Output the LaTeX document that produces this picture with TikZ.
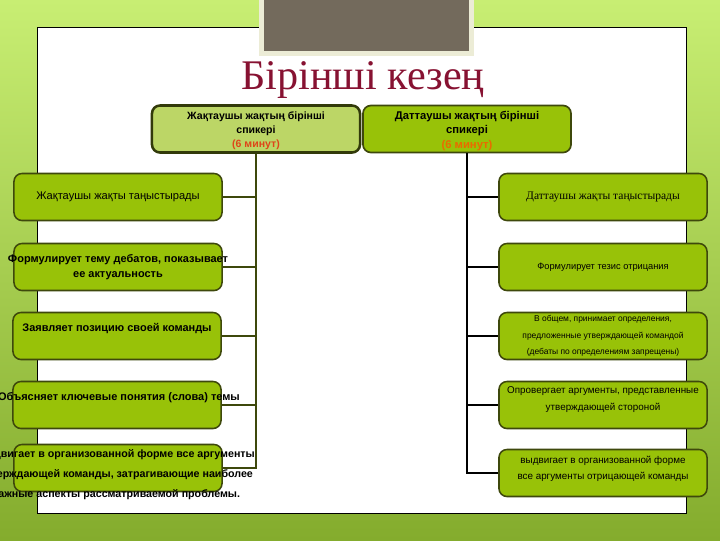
\documentclass[tikz,border=0pt]{standalone}
\usepackage{fontspec}
\setmainfont{Liberation Sans}
\newfontfamily\titlefont{Liberation Serif}
\usetikzlibrary{positioning}
\definecolor{bgTop}{RGB}{200,238,115}
\definecolor{bgBottom}{RGB}{132,172,45}
\definecolor{capGray}{RGB}{115,106,92}
\definecolor{capRim}{RGB}{236,236,214}
\definecolor{boxGreen}{RGB}{152,194,8}
\definecolor{boxLight}{RGB}{188,214,102}
\definecolor{boxRim}{RGB}{62,72,12}
\definecolor{titleRed}{RGB}{135,18,50}
\definecolor{minRed}{RGB}{222,70,25}
\definecolor{minOrange}{RGB}{235,105,0}

\begin{document}
\begin{tikzpicture}[x=0.025cm, y=-0.025cm,
    box/.style={draw=boxRim, line width=1.1pt, fill=boxGreen, rounded corners=0.2cm,
                minimum width=5.2cm, minimum height=1.175cm, inner sep=0pt},
    headbox/.style={box, line width=1.8pt},
    txt/.style={align=center, inner sep=0pt, font=\fontsize{7.8}{11}\selectfont\bfseries},
    rtxt/.style={align=center, inner sep=0pt, font=\fontsize{6.6}{11.5}\selectfont},
    lconn/.style={draw=boxRim, line width=1.1pt},
    rconn/.style={draw=black, line width=1.5pt}]
    % background, panel and cap
    \useasboundingbox (0,0) rectangle (720,540);
    \shade[top color=bgTop, bottom color=bgBottom] (0,0) rectangle (720,540);
    \draw[black, fill=white, line width=0.6pt] (37,27) rectangle (686,513);
    \fill[capRim] (259,-3) rectangle (474,56);
    \fill[capGray] (264,0) rectangle (469,51);
    \node[font=\titlefont\fontsize{30}{30}\selectfont, text=titleRed] (title) at (363,80) {Бірінші кезең};

    % head boxes
    \node[headbox, fill=boxLight, draw=boxRim!80!black] (jt) at (256,129) {};
    \node[txt, font=\fontsize{7.5}{10}\selectfont\bfseries] (jtT) at (256,131)
        {Жақтаушы жақтың бірінші\\спикері\\{\color{minRed}(6 минут)}};
    \node[headbox, line width=1.2pt] (dt) at (467,129) {};
    \node[txt, font=\fontsize{8}{10.5}\selectfont\bfseries] (dtT) at (467,131)
        {Даттаушы жақтың бірінші\\спикері\\{\color{minOrange}(6 минут)}};

    % supporting side
    \node[box] (j1) at (118,197) {};
    \node[txt, font=\fontsize{7.9}{11}\selectfont] (j1T) at (j1) {Жақтаушы жақты таңыстырады};
    \node[box] (j2) at (118,267) {};
    \node[txt] (j2T) at (118,267) {Формулирует тему дебатов, показывает\\ее актуальность};
    \node[box] (j3) at (117,336) {};
    \node[txt] (j3T) at (117,329) {Заявляет позицию своей команды};
    \node[box] (j4) at (117,405) {};
    \node[txt] (j4T) at (119,398) {Объясняет ключевые понятия (слова) темы};
    \node[box] (j5) at (118,468) {};
    \node[txt, font=\fontsize{7.6}{14.2}\selectfont\bfseries] (j5T) at (116,475)
        {Выдвигает в организованной форме все аргументы\\утверждающей команды, затрагивающие наиболее\\важные аспекты рассматриваемой проблемы.};

    % opposing side
    \node[box] (d1) at (603,197) {};
    \node[rtxt, font=\titlefont\fontsize{8.2}{11}\selectfont] (d1T) at (d1) {Даттаушы жақты таңыстырады};
    \node[box] (d2) at (603,267) {};
    \node[rtxt] (d2T) at (d2) {Формулирует тезис отрицания};
    \node[box] (d3) at (603,336) {};
    \node[rtxt, font=\fontsize{6}{11.8}\selectfont] (d3T) at (d3)
        {В общем, принимает определения,\\предложенные утверждающей командой\\(дебаты по определениям запрещены)};
    \node[box] (d4) at (603,405) {};
    \node[rtxt, font=\fontsize{7}{12}\selectfont] (d4T) at (603,400)
        {Опровергает аргументы, представленные\\утверждающей стороной};
    \node[box] (d5) at (603,473) {};
    \node[rtxt, font=\fontsize{7}{11.5}\selectfont] (d5T) at (603,469)
        {выдвигает в организованной форме\\все аргументы отрицающей команды};

    % connectors
    \foreach \i in {1,...,5} {
        \draw[lconn] (jt.south) |- (j\i.east);
        \draw[rconn] (dt.south) |- (d\i.west);
    }
\end{tikzpicture}
\end{document}
